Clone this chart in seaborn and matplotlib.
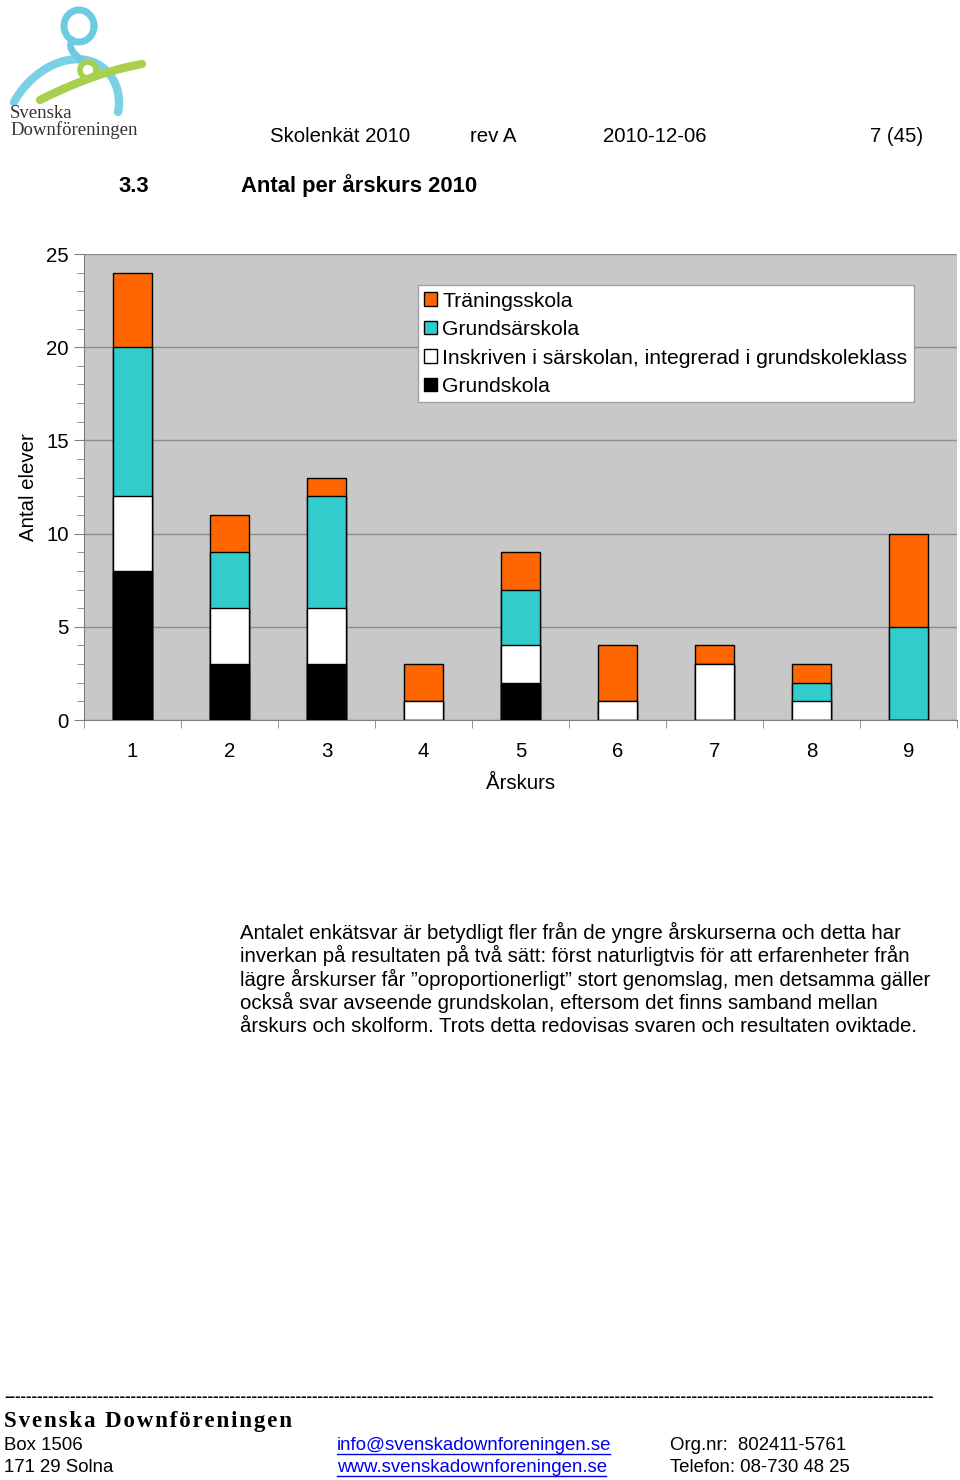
#Import packages
import numpy as np
import pandas as pd
import matplotlib
matplotlib.use("Agg")
import matplotlib.pyplot as plt
from matplotlib.patches import Patch
from matplotlib.ticker import MultipleLocator, FixedLocator
import seaborn as sns

plt.rcParams['font.family'] = ['Liberation Sans', 'DejaVu Sans']

#Data (antal elever per årskurs)
grades = ['1', '2', '3', '4', '5', '6', '7', '8', '9']
grundskola = [8, 3, 3, 0, 2, 0, 0, 0, 0]
integrerad = [4, 3, 3, 1, 2, 1, 3, 1, 0]
grundsarskola = [8, 3, 6, 0, 3, 0, 0, 1, 5]
traningsskola = [4, 2, 1, 2, 2, 3, 1, 1, 5]

series_names = ['Grundskola', 'Inskriven i särskolan, integrerad i grundskoleklass',
                'Grundsärskola', 'Träningsskola']
series_colors = ['#000000', '#FFFFFF', '#33CCCC', '#FF6600']

df = pd.DataFrame({'grade': grades,
                   series_names[0]: grundskola,
                   series_names[1]: integrerad,
                   series_names[2]: grundsarskola,
                   series_names[3]: traningsskola})

fig = plt.figure(figsize=(9.6, 14.8), dpi=100)

#Overlay for page text, in pixel coordinates
deco = fig.add_axes([0, 0, 1, 1])
deco.set_xlim(0, 960)
deco.set_ylim(1480, 0)
deco.axis('off')

#Logo (rough sketch)
def bezier(pts, n=80):
    pts = [np.array(p, dtype=float) for p in pts]
    t = np.linspace(0, 1, n)
    cur = [np.outer(np.ones_like(t), p) for p in pts]
    while len(cur) > 1:
        cur = [(1 - t)[:, None] * cur[i] + t[:, None] * cur[i + 1] for i in range(len(cur) - 1)]
    return cur[0]

blue = '#6CCBE3'
green = '#A9CF4E'
th = np.linspace(0, 2 * np.pi, 100)
deco.plot(79 + 15 * np.cos(th), 26 + 16 * np.sin(th), color=blue, lw=5, solid_capstyle='round')
c = bezier([(72, 40), (66, 52), (82, 58), (80, 60)])
deco.plot(c[:, 0], c[:, 1], color=blue, lw=5, solid_capstyle='round')
c = bezier([(14, 102), (40, 55), (100, 35), (125, 80), (118, 112)])
deco.plot(c[:, 0], c[:, 1], color=blue, lw=6, solid_capstyle='round', alpha=0.9)
c = bezier([(40, 100), (80, 80), (110, 70), (142, 64)])
deco.plot(c[:, 0], c[:, 1], color=green, lw=6, solid_capstyle='round')
deco.plot(88 + 8 * np.cos(th), 70 + 8 * np.sin(th), color=green, lw=4)
deco.text(10, 113, 'Svenska', fontsize=13.5, family=['Liberation Serif', 'DejaVu Serif'],
          color='#333333', va='center')
deco.text(10, 130, 'Downföreningen', fontsize=13.5, family=['Liberation Serif', 'DejaVu Serif'],
          color='#333333', va='center')

#Header
for x, s in [(270, 'Skolenkät 2010'), (470, 'rev A'), (603, '2010-12-06'), (870, '7 (45)')]:
    deco.text(x, 136, s, fontsize=14.7, va='center')
deco.text(119, 186, '3.3', fontsize=15.8, fontweight='bold', va='center')
deco.text(241, 186, 'Antal per årskurs 2010', fontsize=15.8, fontweight='bold', va='center')

#Chart
ax = fig.add_axes([84 / 960, 1 - 720 / 1480, 873 / 960, 466 / 1480])
ax.set_facecolor('#C8C8C8')

#stacked bars: draw cumulative totals from the top down
cum = df[series_names].cumsum(axis=1)
for name, color in reversed(list(zip(series_names, series_colors))):
    sns.barplot(x=df['grade'], y=cum[name], color=color, saturation=1, width=0.4,
                edgecolor='black', linewidth=1, ax=ax, order=grades, zorder=3)

ax.set_xlim(-0.5, 8.5)
ax.set_ylim(0, 25)
ax.yaxis.set_major_locator(MultipleLocator(5))
ax.yaxis.set_minor_locator(MultipleLocator(1))
ax.xaxis.set_minor_locator(FixedLocator(np.arange(-0.5, 9, 1)))
ax.grid(axis='y', which='major', color='#8C8C8C', lw=1, zorder=0)
ax.set_axisbelow(True)
for s in ['top', 'right']:
    ax.spines[s].set_visible(False)
for s in ['left', 'bottom']:
    ax.spines[s].set_color('#808080')
ax.tick_params(axis='y', which='major', length=7, color='#808080', labelsize=14.7, pad=4)
ax.tick_params(axis='y', which='minor', length=5, color='#808080')
ax.tick_params(axis='x', which='major', length=0, labelsize=14.7, pad=16)
ax.tick_params(axis='x', which='minor', length=6, color='#808080')
ax.set_xlabel('Årskurs', fontsize=14.7)
ax.xaxis.set_label_coords(0.5, -0.115)
ax.set_ylabel('Antal elever', fontsize=14.7)
ax.yaxis.set_label_coords(-0.053, 0.5)

handles = [Patch(facecolor=series_colors[i], edgecolor='black', label=series_names[i])
           for i in [3, 2, 1, 0]]
leg = ax.legend(handles=handles, loc='upper left', bbox_to_anchor=(0.3826, 0.933),
                borderaxespad=0, fontsize=15.2, handlelength=0.6, handleheight=0.6,
                handletextpad=0.25, labelspacing=0.45, borderpad=0.3, fancybox=False,
                framealpha=1, edgecolor='#A0A0A0')
leg.get_frame().set_linewidth(1)

#Paragraph
para = ['Antalet enkätsvar är betydligt fler från de yngre årskurserna och detta har',
        'inverkan på resultaten på två sätt: först naturligtvis för att erfarenheter från',
        'lägre årskurser får ”oproportionerligt” stort genomslag, men detsamma gäller',
        'också svar avseende grundskolan, eftersom det finns samband mellan',
        'årskurs och skolform. Trots detta redovisas svaren och resultaten oviktade.']
for i, line in enumerate(para):
    deco.text(240, 932 + i * 23.5, line, fontsize=14.65, va='center')

#Footer
deco.text(4, 1397, '-' * 169, fontsize=12, fontweight='bold', va='center')
deco.text(4, 1422, '\u200a'.join('Svenska Downföreningen'), fontsize=16.5, fontweight='bold',
          family=['Liberation Serif', 'DejaVu Serif'], va='center')
deco.text(4, 1445, 'Box 1506', fontsize=13.4, va='center')
deco.text(4, 1467, '171 29 Solna', fontsize=13.4, va='center')
deco.text(337, 1445, 'info@svenskadownforeningen.se', fontsize=13.4, va='center', color='#0000EE')
deco.text(337, 1467, 'www.svenskadownforeningen.se', fontsize=13.4, va='center', color='#0000EE')
deco.plot([337, 610], [1454, 1454], color='#0000EE', lw=1)
deco.plot([337, 606], [1476, 1476], color='#0000EE', lw=1)
deco.text(670, 1445, 'Org.nr:  802411-5761', fontsize=13.4, va='center')
deco.text(670, 1467, 'Telefon: 08-730 48 25', fontsize=13.4, va='center')

plt.savefig('out.png', dpi=100)
